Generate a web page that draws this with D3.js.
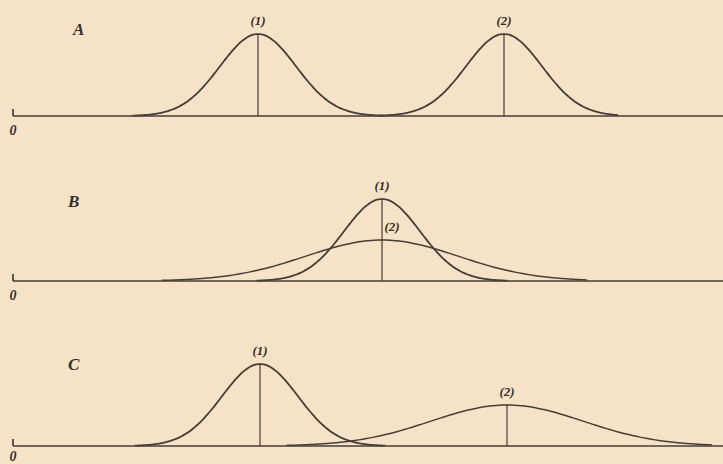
<!DOCTYPE html>
<html>
<head>
<meta charset="utf-8">
<script src="https://cdn.jsdelivr.net/npm/d3@7"></script>
<style>
  html, body { margin: 0; padding: 0; background: #f6e2c7; }
  svg { display: block; }
  .lbl { font-family: "Liberation Serif", "DejaVu Serif", serif; font-style: italic; font-weight: bold; fill: #352e29; }
</style>
</head>
<body>
<svg id="chart" width="723" height="464"></svg>
<script>
// panels of the figure, each with two normal curves (means, spreads in abscissa units)
var panels = ['A', 'B', 'C'];
var means1 = [24.5, 36.9, 24.7];
var means2 = [49.1, 36.9, 49.4];
var sds1 = [3.8, 3.8, 3.8];
var sds2 = [3.8, 7.6, 7.6];
var curveLabels = ['(1)', '(2)'];

var width = 723, height = 464;
var margin = { left: 13, right: 0 };
var baselines = [116, 281, 446];
var panelLabelY = [35, 207, 370];
var ink = '#463d36';

var svg = d3.select('#chart');

var x = d3.scaleLinear()
    .domain([0, 71])
    .range([margin.left, width - margin.right]);

// density -> pixel height above baseline
var yh = d3.scaleLinear().domain([0, 0.105]).range([0, 82]);

function density(v, m, s) {
    return Math.exp(-0.5 * ((v - m) / s) * ((v - m) / s)) / (s * Math.sqrt(2 * Math.PI));
}

function curvePoints(m, s, lo, hi) {
    return d3.range(m - lo * s, m + hi * s + 0.01, s / 20).map(function(v) {
        return [v, density(v, m, s)];
    });
}

panels.forEach(function(name, i) {
    var base = baselines[i];
    var g = svg.append('g');
    var line = d3.line()
        .x(function(d) { return x(d[0]); })
        .y(function(d) { return base - yh(d[1]); })
        .curve(d3.curveBasis);

    // baseline and the little tick at zero
    g.append('line')
        .attr('x1', x(0)).attr('x2', width)
        .attr('y1', base).attr('y2', base)
        .attr('stroke', ink).attr('stroke-width', 1.7);
    g.append('line')
        .attr('x1', x(0)).attr('x2', x(0))
        .attr('y1', base - 7).attr('y2', base)
        .attr('stroke', ink).attr('stroke-width', 1.7);
    g.append('text').attr('class', 'lbl')
        .attr('x', x(0)).attr('y', Math.min(base + 19, height - 3))
        .attr('text-anchor', 'middle')
        .attr('font-size', 14)
        .text('0');

    g.append('text').attr('class', 'lbl')
        .attr('x', i === 0 ? 73 : 68).attr('y', panelLabelY[i])
        .attr('font-size', 17)
        .text(name);

    var wide = sds2[i] > sds1[i];
    var curves = [
        { m: means1[i], s: sds1[i], lo: 3.3, hi: 3.3, w: 1.8 },
        { m: means2[i], s: sds2[i], lo: wide ? 2.9 : 3.3, hi: wide ? 2.7 : 3.0, w: wide ? 1.5 : 1.8 }
    ];

    curves.forEach(function(c) {
        g.append('path')
            .datum(curvePoints(c.m, c.s, c.lo, c.hi))
            .attr('d', line)
            .attr('fill', 'none')
            .attr('stroke', ink)
            .attr('stroke-width', c.w);
    });

    // vertical ordinate at the mean (only the taller one when means coincide)
    var verts = means1[i] === means2[i] ? [curves[0]] : curves;
    verts.forEach(function(c) {
        g.append('line')
            .attr('x1', x(c.m)).attr('x2', x(c.m))
            .attr('y1', base).attr('y2', base - yh(density(c.m, c.m, c.s)))
            .attr('stroke', ink).attr('stroke-width', 1.2);
    });

    curves.forEach(function(c, j) {
        var top = base - yh(density(c.m, c.m, c.s));
        var dx = (means1[i] === means2[i] && j === 1) ? 10 : 0;
        g.append('text').attr('class', 'lbl')
            .attr('x', x(c.m) + dx).attr('y', top - 9)
            .attr('text-anchor', 'middle')
            .attr('font-size', 13)
            .text(curveLabels[j]);
    });
});
</script>
</body>
</html>
